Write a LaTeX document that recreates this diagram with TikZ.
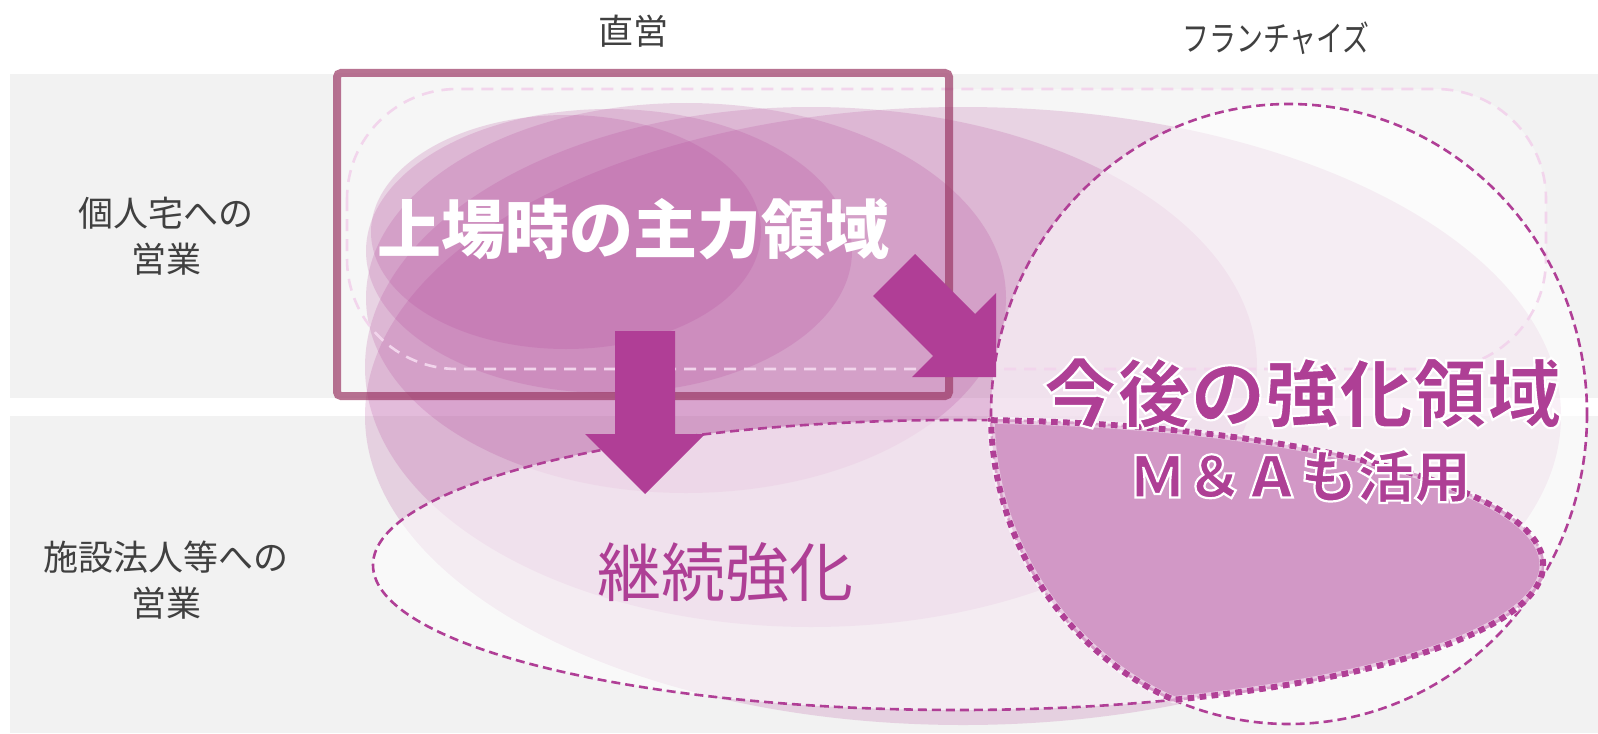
\documentclass[tikz,border=0pt]{standalone}
\usepackage{fontspec}
\usepackage{graphicx}
\newfontfamily\jp{Noto Sans CJK JP}
\definecolor{band}{HTML}{F2F2F2}
\definecolor{inner}{HTML}{F6F6F6}
\definecolor{mag}{HTML}{B03F96}
\definecolor{arrowc}{HTML}{B03E96}
\definecolor{txtm}{HTML}{AE3F95}
\definecolor{lensc}{HTML}{D298C6}
\definecolor{framec}{HTML}{9B3865}
\definecolor{dashpink}{HTML}{F2D5EC}
\definecolor{labc}{HTML}{404040}
\newcommand{\outlined}[1]{\special{pdf:literal direct 2 Tr 1 1 1 RG 1.1 w}#1\special{pdf:literal direct 0 Tr}}
\begin{document}
\begin{tikzpicture}[x=0.5pt,y=-0.5pt,
  lab/.style={font=\jp\fontsize{17.5}{23}\selectfont, text=labc, align=center, inner sep=0pt},
  pinkel/.style={fill=mag, fill opacity=0.19},
  veil/.style={fill=white, fill opacity=0.6},
  thindash/.style={draw=mag, line width=1.3pt, dash pattern=on 4.5pt off 2.5pt},
  blockarrow/.style={fill=arrowc},
  bigtxt/.style={inner sep=0pt, text=txtm, font=\jp\bfseries\fontsize{37}{40}\selectfont},
  matxt/.style={inner sep=0pt, text=txtm, font=\jp\bfseries\fontsize{28.5}{32}\selectfont}
]
\useasboundingbox (0,0) rectangle (1598,733);
\fill[white] (0,0) rectangle (1598,733);
% bands
\fill[band] (10,74) rectangle (1598,398);
\fill[band] (10,416) rectangle (1598,733);
% light interiors
\fill[inner] (337,73) rectangle (949,396);
\fill[inner, rounded corners=55pt] (347,89) rectangle (1546,369);
% pink ellipses
\fill[pinkel] (963,416) ellipse [x radius=598, y radius=309];
\fill[pinkel] (811,367) ellipse [x radius=446, y radius=260];
\fill[pinkel] (686,298) ellipse [x radius=320, y radius=195];
\fill[pinkel] (609,251) ellipse [x radius=243, y radius=142];
\fill[pinkel] (566,232) ellipse [x radius=195, y radius=117];
% veils
\fill[veil] (1289,414) ellipse [x radius=298, y radius=310];
\fill[veil] (958,565) ellipse [x radius=585, y radius=145];
% lens
\path[fill=lensc] (991.1,420.2) arc[start angle=-86.77, end angle=68.4, x radius=585, y radius=145]
   arc[start angle=112.8, end angle=178.85, x radius=298, y radius=310] -- cycle;
% dashed rounded rect
\draw[dashpink, line width=1.3pt, dash pattern=on 6pt off 4pt, rounded corners=55pt] (347,89) rectangle (1546,369);
% frame
\draw[framec, draw opacity=0.7, line width=4pt, rounded corners=2pt] (337,73) rectangle (949,396);
% dashed outlines
\draw[thindash] (1289,414) ellipse [x radius=298, y radius=310];
\draw[thindash] (958,565) ellipse [x radius=585, y radius=145];
% lens border
\draw[white, draw opacity=0.5, line width=3.6pt] (991.1,420.2) arc[start angle=-86.77, end angle=68.4, x radius=585, y radius=145]
   arc[start angle=112.8, end angle=178.85, x radius=298, y radius=310] -- cycle;
\draw[mag, line width=3pt, dash pattern=on 3.3pt off 2.7pt] (991.1,420.2) arc[start angle=-86.77, end angle=68.4, x radius=585, y radius=145]
   arc[start angle=112.8, end angle=178.85, x radius=298, y radius=310] -- cycle;
% arrows
\fill[blockarrow] (615,331) -- (675,331) -- (675,434) -- (705,434) -- (645,494) -- (585,434) -- (615,434) -- cycle;
\fill[blockarrow] (915,254) -- (975,314) -- (996,293) -- (996,377) -- (912,377) -- (933,356) -- (873,296) -- cycle;
% labels
\node[lab] (colA) at (633,31) {直営};
\node[lab] (colB) at (1276,38) {\scalebox{0.77}[1]{フランチャイズ}};
\node[lab] (rowA) at (166,236) {個人宅への\\営業};
\node[lab] (rowB) at (166,580) {施設法人等への\\営業};
% main texts
\node[inner sep=0pt, text=white, font=\jp\bfseries\fontsize{32}{36}\selectfont] (main) at (633,229) {上場時の主力領域};
\node[bigtxt] (future) at (1302,393) {\outlined{今後の強化領域}};
\node[matxt] (ma) at (1300,476) {\outlined{Ｍ＆Ａも活用}};
\node[inner sep=0pt, text=txtm, font=\jp\fontsize{32}{36}\selectfont] (cont) at (725,572) {継続強化};
\end{tikzpicture}
\end{document}
